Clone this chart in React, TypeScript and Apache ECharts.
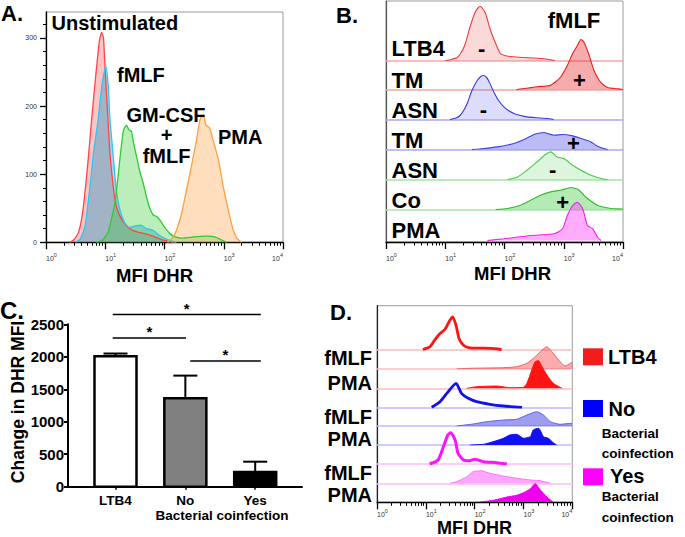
import React, { useEffect, useRef } from "react";
import * as echarts from "echarts";

const FONT = "'Liberation Sans', Arial, Helvetica, sans-serif";

// ---------------- Panel A: histograms, [log10(MFI DHR), count]
const aUnstimulated = [[0.40,0],[0.46,3],[0.55,15],[0.62,45],[0.70,110],[0.77,180],[0.84,245],[0.90,295],[0.94,308],[0.97,300],[1.00,250],[1.04,190],[1.08,130],[1.13,85],[1.18,55],[1.25,38],[1.35,25],[1.45,18],[1.55,15],[1.65,13],[1.80,9],[1.95,4],[2.15,0]];
const aFmlf = [[0.50,0],[0.58,5],[0.66,25],[0.74,80],[0.80,130],[0.88,180],[0.95,235],[1.01,258],[1.05,230],[1.08,180],[1.13,131],[1.18,82],[1.24,50],[1.32,30],[1.40,22],[1.50,24],[1.60,25],[1.70,20],[1.80,18],[1.92,10],[2.05,4],[2.20,0]];
const aGmcsfFmlf = [[0.85,0],[0.95,3],[1.05,15],[1.12,40],[1.17,62],[1.22,100],[1.27,140],[1.31,165],[1.36,172],[1.40,165],[1.44,163],[1.48,145],[1.53,125],[1.58,105],[1.64,87],[1.70,65],[1.76,48],[1.81,40],[1.87,38],[1.92,33],[1.98,25],[2.04,18],[2.10,12],[2.18,8],[2.30,6],[2.50,8],[2.70,9],[2.85,8],[2.95,4],[3.05,0]];
const aPma = [[2.05,0],[2.15,8],[2.22,22],[2.29,43],[2.36,72],[2.43,101],[2.49,128],[2.54,150],[2.60,180],[2.655,187],[2.70,172],[2.76,168],[2.82,150],[2.91,121],[2.99,82],[3.05,58],[3.10,38],[3.16,18],[3.22,6],[3.30,0]];
const aYTicks = [0, 100, 200, 300];
const logDecades = [0, 1, 2, 3, 4];

// ---------------- Panel B: stacked histograms, [log10(MFI DHR), relative count]
const bRowLabels = ["LTB4", "TM", "ASN", "TM", "ASN", "Co", "PMA"];
const bRowSigns = ["-", "+", "-", "+", "-", "+"];
const bLtb4Minus = [[1.00,0],[1.10,1],[1.20,3],[1.27,8],[1.34,17],[1.42,34],[1.51,49],[1.56,53],[1.59,54],[1.63,52],[1.68,47],[1.76,31],[1.85,17],[1.93,7],[2.00,5],[2.10,4],[2.30,3],[2.50,2.5],[2.70,1.5],[2.85,0]];
const bTmPlusRed = [[2.20,0],[2.40,1.5],[2.55,2.7],[2.70,3.5],[2.78,4.3],[2.87,8],[2.95,12.7],[3.06,24],[3.15,36],[3.23,44],[3.29,50],[3.34,47.6],[3.43,34],[3.51,19],[3.60,9],[3.67,4.5],[3.74,2],[3.85,1],[3.97,0.3],[4.0,0]];
const bAsnMinusBlue = [[1.08,0],[1.18,1.5],[1.25,4],[1.31,9],[1.37,16],[1.45,29],[1.54,39],[1.60,43],[1.65,44],[1.69,42.5],[1.73,39],[1.82,27.6],[1.90,19],[1.99,12.6],[2.08,8.5],[2.16,6],[2.27,4],[2.38,2.6],[2.55,1.7],[2.72,1],[2.83,0]];
const bTmPlusBlue = [[1.45,0],[1.65,1],[1.88,2.6],[2.05,4.5],[2.16,6],[2.33,10],[2.50,15],[2.60,16.5],[2.67,17],[2.75,15.5],[2.84,14.3],[2.98,15],[3.15,13.6],[3.29,11],[3.46,7.6],[3.55,4],[3.60,2.6],[3.74,0]];
const bAsnMinusGreen = [[2.05,0],[2.22,2.6],[2.38,9.3],[2.55,17.6],[2.69,25],[2.78,27.6],[2.89,22.6],[3.00,21],[3.15,14.3],[3.29,9.3],[3.46,4.3],[3.63,1],[3.74,0]];
const bCoPlusGreen = [[1.85,0],[2.05,1],[2.27,4.3],[2.44,9.3],[2.61,14.3],[2.78,17.6],[2.95,19.3],[3.05,21],[3.12,22],[3.20,21],[3.26,19.3],[3.33,15],[3.40,11],[3.57,4.3],[3.80,1],[3.99,0.5],[4.0,0]];
const bPma = [[1.71,0],[1.99,1.7],[2.44,5],[2.84,6.7],[2.98,11.7],[3.06,25],[3.15,35],[3.23,38.3],[3.32,31.7],[3.40,15],[3.49,11.7],[3.57,3.3],[3.63,0]];

// ---------------- Panel C: bar chart
const cCategories = ["LTB4", "No", "Yes"];
const cMeans = [2010, 1360, 225];
const cErrors = [40, 350, 160];
const cSigLines = [[-0.04, 2.08, 2650], [-0.04, 1.01, 2290], [1.07, 2.08, 1935]];

// ---------------- Panel D: stacked histograms
const dRowLabels = ["fMLF", "PMA", "fMLF", "PMA", "fMLF", "PMA"];
const dLegendNames = ["LTB4", "No", "Yes"];
const dLtb4Unstim = [[0.94,0],[1.08,2.6],[1.18,9.3],[1.29,16],[1.39,20],[1.49,29],[1.55,32.6],[1.62,24],[1.68,11],[1.77,4.3],[1.90,1.6],[2.18,1.3],[2.48,0.5],[2.55,0]];
const dLtb4Fmlf = [[1.63,0],[1.90,0.7],[2.59,1.3],[2.86,2.3],[3.07,5.7],[3.24,12.3],[3.38,19],[3.48,22.3],[3.58,17.3],[3.72,9],[3.85,3],[3.96,5.7],[4.0,7]];
const dLtb4Pma = [[1.84,0],[2.04,1.6],[2.45,2.3],[2.72,0.6],[3.00,1],[3.07,5],[3.17,18.3],[3.24,26.6],[3.31,27.6],[3.38,21.6],[3.48,13.3],[3.61,5],[3.79,0]];
const dNoUnstim = [[1.12,0],[1.29,5.6],[1.43,14],[1.62,24],[1.73,14],[1.87,9],[2.04,5.6],[2.31,3],[2.59,1.3],[2.97,0]];
const dNoFmlf = [[1.63,0],[1.97,2],[2.25,4.3],[2.59,6],[2.86,6.7],[3.07,11],[3.27,14.3],[3.41,11],[3.55,4.3],[3.75,1.7],[3.99,2.7],[4.0,2.7]];
const dNoPma = [[1.90,0],[2.18,0.7],[2.38,3.3],[2.59,6.7],[2.72,10],[2.86,10.7],[3.00,6.7],[3.14,8.3],[3.20,15],[3.31,16.7],[3.41,8.3],[3.51,6.7],[3.61,2.3],[3.68,0]];
const dYesUnstim = [[1.08,0],[1.25,4],[1.36,17.3],[1.45,29],[1.51,31.3],[1.60,24],[1.66,10.7],[1.77,4],[1.90,3.3],[2.00,4.7],[2.18,2.3],[2.45,1.3],[2.66,0]];
const dYesFmlf = [[1.49,0],[1.63,1.6],[1.84,6.6],[1.97,11.6],[2.14,12.6],[2.31,10],[2.59,7.3],[2.86,5],[3.14,3.3],[3.34,2.6],[3.55,0]];
const dYesPma = [[2.11,0],[2.38,1.7],[2.66,5],[2.86,6.7],[3.03,10],[3.14,13.3],[3.24,18.4],[3.34,12.4],[3.48,5],[3.61,0]];

function buildOption() {
  const grid: any[] = [];
  const xAxis: any[] = [];
  const yAxis: any[] = [];
  const series: any[] = [];
  const graphic: any[] = [];

  const minorLogTicks: number[] = [];
  for (let d = 0; d < 4; d++) for (let k = 2; k <= 9; k++) minorLogTicks.push(d + Math.log10(k));

  const logLabel = (margin: number) => ({
    show: true,
    customValues: logDecades,
    margin,
    formatter: (v: number) => (v >= 4 ? `{b|10}{s|${v}}{p| }` : `{p| }{b|10}{s|${v}}`),
    rich: {
      b: { fontSize: 7, fontFamily: FONT, color: "#333", lineHeight: 10, verticalAlign: "bottom" },
      s: { fontSize: 5.5, fontFamily: FONT, color: "#333", lineHeight: 10, verticalAlign: "top" },
      p: { width: 11, fontSize: 5 },
    },
  });

  const addLogX = (gi: number, margin: number) => {
    const idx = xAxis.length;
    xAxis.push({
      type: "value", gridIndex: gi, min: 0, max: 4, position: "bottom",
      axisLine: { show: true, onZero: false, lineStyle: { color: "#000", width: 1.3 } },
      axisTick: { show: true, customValues: minorLogTicks, length: 3.5, lineStyle: { color: "#000", width: 1 } },
      axisLabel: { show: false }, splitLine: { show: false },
    });
    xAxis.push({
      type: "value", gridIndex: gi, min: 0, max: 4, position: "bottom",
      axisLine: { show: false, onZero: false },
      axisTick: { show: true, customValues: logDecades, length: 7, lineStyle: { color: "#000", width: 1.3 } },
      axisLabel: logLabel(margin), splitLine: { show: false },
    });
    return idx;
  };

  const T = (text: string, x: number, y: number, size: number, align = "left", extra: any = {}) => ({
    type: "text", x, y, z: 100, silent: true, ...extra,
    style: { text, fill: "#000", fontSize: size, fontWeight: "bold", fontFamily: FONT, align, verticalAlign: "middle" },
  });

  // ===== Panel A =====
  grid.push({ left: 46, top: 12, width: 237, height: 230.3, show: true, borderColor: "#9a9a9a", borderWidth: 1 });
  const aX = addLogX(0, 10);
  const aMinorY: number[] = [];
  for (let v = 0; v <= 320; v += 20) aMinorY.push(v);
  yAxis.push({
    type: "value", gridIndex: 0, min: 0, max: 338, position: "left",
    axisLine: { show: true, onZero: false, lineStyle: { color: "#000", width: 1.3 } },
    axisTick: { show: true, customValues: aMinorY, length: 3, lineStyle: { color: "#000", width: 1 } },
    axisLabel: { show: false }, splitLine: { show: false },
  });
  yAxis.push({
    type: "value", gridIndex: 0, min: 0, max: 338, position: "left",
    axisLine: { show: false, onZero: false },
    axisTick: { show: true, customValues: aYTicks, length: 6, lineStyle: { color: "#000", width: 1.3 } },
    axisLabel: { show: true, customValues: aYTicks, fontSize: 7, fontFamily: FONT, color: "#333", margin: 9 },
    splitLine: { show: false },
  });
  const aSeries = [
    { data: aUnstimulated, line: "#ff4646", fill: "rgba(245,70,70,0.45)" },
    { data: aFmlf, line: "#2ec5f2", fill: "rgba(20,150,200,0.55)" },
    { data: aGmcsfFmlf, line: "#2fcc2f", fill: "rgba(40,200,40,0.45)" },
    { data: aPma, line: "#ffa040", fill: "rgba(255,160,70,0.5)" },
  ];
  aSeries.forEach((s) =>
    series.push({
      type: "line", xAxisIndex: aX, yAxisIndex: 0, data: s.data, symbol: "none", smooth: 0.2,
      lineStyle: { color: s.line, width: 1.3 }, areaStyle: { color: s.fill }, silent: true,
    })
  );
  graphic.push(T("A.", 1, 13.5, 22));
  graphic.push(T("Unstimulated", 51.5, 23, 20));
  graphic.push(T("fMLF", 117, 75, 20));
  graphic.push(T("GM-CSF", 166, 115, 20, "center"));
  graphic.push(T("+", 166.5, 135, 20, "center"));
  graphic.push(T("fMLF", 166.5, 156, 20, "center"));
  graphic.push(T("PMA", 218, 136.5, 20));
  graphic.push(T("MFI DHR", 154.5, 275, 18.5, "center"));

  // ===== Panel B =====
  const bFrame = grid.length;
  grid.push({ left: 386, top: 1, width: 237, height: 241, show: true, borderColor: "#9a9a9a", borderWidth: 1 });
  addLogX(bFrame, 10);
  yAxis.push({
    type: "value", gridIndex: bFrame, min: 0, max: 1, position: "left",
    axisLine: { show: true, onZero: false, lineStyle: { color: "#555", width: 1.2 } },
    axisTick: { show: false }, axisLabel: { show: false }, splitLine: { show: false },
  });
  const bRows = [
    { data: bLtb4Minus, line: "#f23a3a", fill: "rgba(240,60,60,0.28)", base: "#f5a6a6" },
    { data: bTmPlusRed, line: "#e82020", fill: "rgba(232,40,40,0.55)", base: "#f5a6a6" },
    { data: bAsnMinusBlue, line: "#3838e0", fill: "rgba(60,60,230,0.25)", base: "#aaaaf0" },
    { data: bTmPlusBlue, line: "#4040dd", fill: "rgba(60,60,230,0.5)", base: "#aaaaf0" },
    { data: bAsnMinusGreen, line: "#40cc40", fill: "rgba(60,200,60,0.25)", base: "#a6e6a6" },
    { data: bCoPlusGreen, line: "#30bb30", fill: "rgba(60,200,60,0.55)", base: "#a6e6a6" },
    { data: bPma, line: "#ee22ee", fill: "rgba(255,40,255,0.55)", base: "#f5a6f5" },
  ];
  const bBaselines = [60.5, 89.5, 119.5, 149.5, 179.5, 209.5, 240.5];
  bRows.forEach((r, i) => {
    const gi = grid.length;
    grid.push({ left: 386, top: bBaselines[i] - 60, width: 237, height: 60 });
    const xi = xAxis.length;
    xAxis.push({
      type: "value", gridIndex: gi, min: 0, max: 4,
      axisLine: { show: i < bRows.length - 1, onZero: false, lineStyle: { color: r.base, width: 1.5 } },
      axisTick: { show: false }, axisLabel: { show: false }, splitLine: { show: false },
    });
    const yi = yAxis.length;
    yAxis.push({ type: "value", gridIndex: gi, min: 0, max: 60, show: false, splitLine: { show: false } });
    series.push({
      type: "line", xAxisIndex: xi, yAxisIndex: yi, data: r.data, symbol: "none", smooth: 0.2,
      lineStyle: { color: r.line, width: 1.1 }, areaStyle: { color: r.fill }, silent: true,
    });
  });
  graphic.push(T("B.", 336, 15, 22));
  const bLabelY = [48.3, 80, 110, 140.7, 170, 200, 230];
  bRowLabels.forEach((l, i) => graphic.push(T(l, 391.5, bLabelY[i], 22)));
  const bSignPos = [[481.7, 48.3], [579.3, 80], [483.3, 109.3], [573.3, 143.3], [552.7, 169.5], [562.7, 202.3]];
  bRowSigns.forEach((s, i) => graphic.push(T(s, bSignPos[i][0], bSignPos[i][1], 22, "center")));
  graphic.push(T("fMLF", 574, 20.7, 22, "center"));
  graphic.push(T("MFI DHR", 512.5, 273, 18.5, "center"));

  // ===== Panel C =====
  const cGrid = grid.length;
  grid.push({ left: 68, top: 324.3, width: 234, height: 162.4 });
  const cX = xAxis.length;
  xAxis.push({
    type: "value", gridIndex: cGrid, min: -0.68, max: 2.67,
    axisLine: { show: true, onZero: false, lineStyle: { color: "#000", width: 2 } },
    axisTick: { show: true, customValues: [0, 1, 2], length: 3, lineStyle: { color: "#000", width: 1.5 } },
    axisLabel: {
      show: true, customValues: [0, 1, 2], margin: 7,
      formatter: (v: number) => cCategories[Math.round(v)] ?? "",
      fontSize: 13.5, fontWeight: "bold", fontFamily: FONT, color: "#000",
    },
    splitLine: { show: false },
  });
  const cY = yAxis.length;
  yAxis.push({
    type: "value", gridIndex: cGrid, min: 0, max: 2500, interval: 500, position: "left",
    axisLine: { show: true, onZero: false, lineStyle: { color: "#000", width: 2 } },
    axisTick: { show: true, length: 4, lineStyle: { color: "#000", width: 2 } },
    axisLabel: {
      show: true, margin: 4, fontSize: 15, fontWeight: "bold", fontFamily: FONT, color: "#000",
      formatter: (v: number) => String(v),
    },
    splitLine: { show: false },
  });
  const cColors = ["#ffffff", "#808080", "#000000"];
  series.push({
    type: "custom", xAxisIndex: cX, yAxisIndex: cY, silent: true, z: 2,
    data: cMeans.map((m, i) => [i, m]),
    renderItem: (params: any, api: any) => {
      const i = params.dataIndex;
      const top = api.coord([i, cMeans[i]]);
      const bot = api.coord([i, 0]);
      const half = 21;
      const cx = top[0];
      const capY = api.coord([i, cMeans[i] + cErrors[i]])[1];
      const st = { stroke: "#000", lineWidth: 2 };
      return {
        type: "group",
        children: [
          { type: "line", shape: { x1: cx, y1: top[1], x2: cx, y2: capY }, style: st },
          { type: "line", shape: { x1: cx - 12, y1: capY, x2: cx + 12, y2: capY }, style: st },
          {
            type: "rect", shape: { x: cx - half, y: top[1], width: half * 2, height: bot[1] - top[1] },
            style: { fill: cColors[i], stroke: "#000", lineWidth: 2.5 },
          },
        ],
      };
    },
  });
  series.push({
    type: "custom", xAxisIndex: cX, yAxisIndex: cY, silent: true, z: 3,
    data: cSigLines.map((s) => [s[0], s[2]]),
    renderItem: (params: any, api: any) => {
      const s = cSigLines[params.dataIndex];
      const a = api.coord([s[0], s[2]]);
      const b = api.coord([s[1], s[2]]);
      return {
        type: "group",
        children: [
          { type: "line", shape: { x1: a[0], y1: a[1], x2: b[0], y2: a[1] }, style: { stroke: "#000", lineWidth: 1.5 } },
          {
            type: "text", x: (a[0] + b[0]) / 2, y: a[1] + 1,
            style: { text: "*", fill: "#000", fontSize: 15, fontWeight: "bold", fontFamily: FONT, align: "center", verticalAlign: "bottom" },
          },
        ],
      };
    },
  });
  graphic.push(T("C.", 0, 310, 24));
  graphic.push(T("Change in DHR MFI", 17.5, 402, 17.5, "center", { rotation: Math.PI / 2 }));
  graphic.push(T("Bacterial coinfection", 222, 515, 13.5, "center"));

  // ===== Panel D =====
  const dFrame = grid.length;
  grid.push({ left: 377, top: 305.7, width: 195.3, height: 196.6, show: true, borderColor: "#9a9a9a", borderWidth: 1 });
  addLogX(dFrame, 5.5);
  yAxis.push({
    type: "value", gridIndex: dFrame, min: 0, max: 1, position: "left",
    axisLine: { show: true, onZero: false, lineStyle: { color: "#222", width: 1.2 } },
    axisTick: { show: false }, axisLabel: { show: false }, splitLine: { show: false },
  });
  const red = "#ff1414", blue = "#1010f0", mag = "#ff10ff";
  const dRows = [
    { data: dLtb4Unstim, line: red, width: 2.8, fill: null, base: "#ffbcbc" },
    { data: dLtb4Fmlf, line: "#f06060", width: 1, fill: "rgba(245,70,70,0.45)", base: "#ffbcbc" },
    { data: dLtb4Pma, line: red, width: 1, fill: red, base: "#ffbcbc" },
    { data: dNoUnstim, line: blue, width: 2.8, fill: null, base: "#bcbcff" },
    { data: dNoFmlf, line: "#6060e8", width: 1, fill: "rgba(60,60,230,0.5)", base: "#bcbcff" },
    { data: dNoPma, line: blue, width: 1, fill: blue, base: "#bcbcff" },
    { data: dYesUnstim, line: mag, width: 3, fill: null, base: "#ffbcff" },
    { data: dYesFmlf, line: "#ff70ff", width: 1, fill: "rgba(255,60,255,0.45)", base: "#ffbcff" },
    { data: dYesPma, line: "#ee00ee", width: 1, fill: "#ee00ee", base: "#ffbcff" },
  ];
  const dBaselines = [349.5, 369, 388.3, 407.3, 426, 445, 464, 483.3, 502];
  dRows.forEach((r, i) => {
    const gi = grid.length;
    grid.push({ left: 377, top: dBaselines[i] - 40, width: 195.3, height: 40 });
    const xi = xAxis.length;
    xAxis.push({
      type: "value", gridIndex: gi, min: 0, max: 4,
      axisLine: { show: i < dRows.length - 1, onZero: false, lineStyle: { color: r.base, width: 1.6 } },
      axisTick: { show: false }, axisLabel: { show: false }, splitLine: { show: false },
    });
    const yi = yAxis.length;
    yAxis.push({ type: "value", gridIndex: gi, min: 0, max: 40, show: false, splitLine: { show: false } });
    series.push({
      type: "line", xAxisIndex: xi, yAxisIndex: yi, data: r.data, symbol: "none", smooth: 0.2,
      lineStyle: { color: r.line, width: r.width }, areaStyle: r.fill ? { color: r.fill, opacity: 1 } : undefined, silent: true,
    });
  });
  graphic.push(T("D.", 330, 312, 22));
  const dLabelY = [358.3, 382.7, 417.3, 438.8, 473.3, 495];
  dRowLabels.forEach((l, i) => graphic.push(T(l, 372, dLabelY[i], 20, "right")));
  const legendColors = ["#f21c1c", "#0000ff", "#ff00ff"];
  const legendBoxY = [348.3, 400, 468.3];
  const legendTextY = [357, 408.5, 475.5];
  const legendTextX = [608, 608.5, 610];
  dLegendNames.forEach((n, i) => {
    graphic.push({ type: "rect", z: 100, silent: true, shape: { x: 583, y: legendBoxY[i], width: 20, height: 17 }, style: { fill: legendColors[i] } });
    graphic.push(T(n, legendTextX[i], legendTextY[i], 20));
    if (i > 0) {
      graphic.push(T("Bacterial", 601.7, legendTextY[i] + 24.5 - (i === 2 ? 3.5 : 0), 13.5));
      graphic.push(T("coinfection", 601.7, legendTextY[i] + 44.5 - (i === 2 ? 3 : 0), 13.5));
    }
  });
  graphic.push(T("MFI DHR", 474.5, 527.5, 18, "center"));

  return { animation: false, backgroundColor: "#ffffff", grid, xAxis, yAxis, series, graphic };
}

export default function App() {
  const ref = useRef<HTMLDivElement>(null);
  useEffect(() => {
    if (!ref.current) return;
    const chart = echarts.init(ref.current, undefined, { renderer: "svg" });
    chart.setOption(buildOption() as any);
    return () => chart.dispose();
  }, []);
  return (
    <div
      ref={ref}
      style={{ position: "fixed", left: 0, top: 0, width: 685, height: 537, background: "#fff" }}
    />
  );
}
